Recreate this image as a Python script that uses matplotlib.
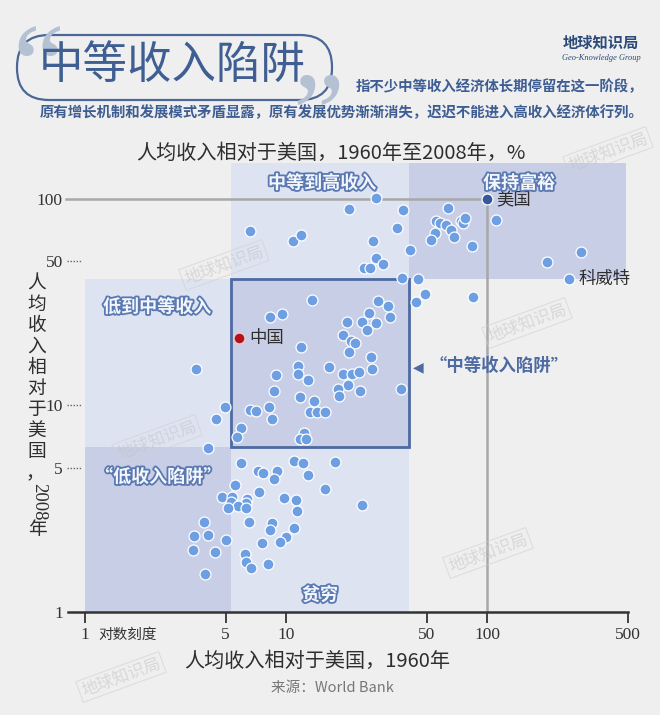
import matplotlib
matplotlib.use("Agg")
import matplotlib.pyplot as plt
import matplotlib.patheffects as pe
from matplotlib.patches import Rectangle, FancyBboxPatch
import numpy as np

plt.rcParams['font.family'] = ['Noto Sans CJK SC', 'DejaVu Sans']

# ---------------- data (relative income vs USA, %) ----------------
countries_1960 = [
    6.6, 10.8, 11.9, 27.9, 20.6, 38.0, 63.6, 35.5, 27.2, 41.2, 27.9, 30.4, 24.5, 26.1, 37.6,
    45.2, 49.3, 44.2, 84.7, 55.9, 58.4, 62.2, 73.8, 76.0, 77.8, 65.8, 55.1, 52.4, 68.1, 84.5,
    110.5, 199.5, 292.6,
    13.5, 8.28, 9.53, 11.9, 3.57, 11.5, 11.5, 8.95, 12.8, 16.3, 8.74, 11.7, 13.8, 8.26, 6.62,
    7.07, 8.49, 13.2, 14.2, 15.7, 4.95, 4.48, 5.95, 5.68, 12.3, 11.7, 12.6, 4.09,
    32.9, 26.0, 27.9, 23.9, 20.0, 25.2, 19.1, 21.0, 22.0, 20.6, 26.5, 26.9, 19.3, 21.2, 23.2,
    20.3, 18.2, 18.4, 23.4, 37.2, 32.3, 28.6,
    5.97, 7.23, 7.71, 8.99, 11.0, 12.2, 12.8, 8.71, 15.6, 17.5, 5.58, 7.34, 4.79, 5.37, 5.31,
    6.37, 6.32, 5.79, 6.32, 5.16, 9.81, 11.2, 11.3, 6.55, 8.49, 8.33, 10.9, 9.97, 9.33, 7.57,
    3.90, 3.49, 4.08, 5.01, 3.43, 4.43, 6.23, 6.32, 6.70, 8.17, 3.94, 24.0,
]
countries_2008 = [
    70.0, 62.4, 66.8, 100.8, 89.1, 88.1, 90.8, 72.1, 62.8, 56.6, 52.0, 48.3, 46.1, 46.2, 41.5,
    41.0, 34.7, 31.7, 33.6, 77.8, 76.8, 75.1, 78.2, 76.3, 80.9, 70.8, 68.2, 63.1, 65.7, 59.2,
    79.3, 49.4, 55.6,
    32.4, 26.8, 27.7, 19.3, 15.1, 15.6, 14.2, 14.0, 13.3, 15.4, 11.8, 10.96, 10.5, 9.87, 9.51,
    9.40, 8.60, 9.30, 9.33, 9.27, 9.84, 8.63, 7.81, 7.06, 7.39, 6.88, 6.91, 6.25,
    26.9, 28.1, 25.2, 25.4, 25.4, 23.2, 21.9, 20.5, 20.1, 18.2, 17.1, 15.1, 14.2, 14.2, 14.6,
    12.6, 12.0, 11.1, 11.8, 12.0, 30.2, 32.2,
    5.28, 4.83, 4.73, 4.83, 5.39, 5.25, 4.62, 4.41, 3.96, 5.31, 4.12, 3.83, 3.62, 3.59, 3.40,
    3.51, 3.36, 3.27, 3.18, 3.18, 3.55, 3.49, 3.08, 2.74, 2.71, 2.49, 2.54, 2.30, 2.19, 2.17,
    2.74, 2.34, 2.36, 2.23, 2.00, 1.95, 1.91, 1.75, 1.64, 1.70, 1.52, 3.30,
]
usa = (100, 100)
china = (5.86, 21.3)
kuwait = (255.9, 40.8)

x_ticks = [1, 5, 10, 50, 100, 500]
y_ticks = [1, 5, 10, 50, 100]

# region boundaries (%)
x_low, x_high, x_max = 5.3, 41, 490
y_low, y_high, y_max = 6.3, 41, 150

BG = '#efeff0'
LIGHT = '#dee3f2'
DARK = '#c8cee6'
BLUE_PT = '#6d9fe2'
NAVY = '#3f5f93'

fig = plt.figure(figsize=(6.6, 7.15), dpi=100, facecolor=BG)
W, H = 660, 715
L, R, T, B = 65.5, 631, 162.6, 612
ax = fig.add_axes([L / W, (H - B) / H, (R - L) / W, (B - T) / H])
ax.set_facecolor('none')
ax.set_xscale('log')
ax.set_yscale('log')
ax.set_xlim(0.8, 520)
ax.set_ylim(1, y_max)

# regions
regions = [
    (1, 1, x_low, y_low, DARK),             # 低收入陷阱
    (1, y_low, x_low, y_high, LIGHT),       # 低到中等收入
    (x_low, 1, x_high, y_low, LIGHT),       # 贫穷
    (x_low, y_high, x_high, y_max, LIGHT),  # 中等到高收入
    (x_low, y_low, x_high, y_high, DARK),   # 中等收入陷阱
    (x_high, y_high, x_max, y_max, DARK),   # 保持富裕
]
for x0, y0, x1, y1, c in regions:
    ax.add_patch(Rectangle((x0, y0), x1 - x0, y1 - y0, facecolor=c, edgecolor='none', zorder=0.5))
ax.add_patch(Rectangle((x_low, y_low), x_high - x_low, y_high - y_low, facecolor='none',
                       edgecolor='#4d6aa3', lw=2, zorder=2))

# reference lines
ax.plot([0.805, usa[0]], [usa[1], usa[1]], color='#a8a8a8', lw=1.8, zorder=1, clip_on=False)
ax.plot([usa[0], usa[0]], [1, usa[1]], color='#a8a8a8', lw=1.8, zorder=1)

# points
ax.scatter(countries_1960, countries_2008, s=62, color=BLUE_PT, edgecolor='white', lw=0.9, zorder=3)
ax.scatter([kuwait[0]], [kuwait[1]], s=62, color=BLUE_PT, edgecolor='white', lw=0.9, zorder=3)
ax.scatter([china[0]], [china[1]], s=62, color='#b3121a', edgecolor='#f4c6c6', lw=1.0, zorder=4)
ax.scatter([usa[0]], [usa[1]], s=62, color='#35599a', edgecolor='white', lw=0.9, zorder=4)

lab_kw = dict(fontsize=12.5, color='#2e2e2e', va='center', ha='left', textcoords='offset points')
ax.annotate('美国', usa, xytext=(7, -1), **lab_kw)
ax.annotate('中国', china, xytext=(7, 0), **lab_kw)
ax.annotate('科威特', kuwait, xytext=(7, 0), **lab_kw)

# axes styling
for s in ['top', 'right', 'left']:
    ax.spines[s].set_visible(False)
ax.spines['bottom'].set_bounds(0.82, 500)
ax.spines['bottom'].set_linewidth(1.8)
ax.spines['bottom'].set_color('#333333')
ax.set_xticks(x_ticks)
ax.set_xticklabels([str(v) for v in x_ticks], fontfamily='Liberation Serif', fontsize=12.5, color='#333')
ax.set_yticks(y_ticks)
ax.set_yticklabels([str(v) for v in y_ticks], fontfamily='Liberation Serif', fontsize=12.5, color='#333')
ax.xaxis.set_minor_locator(matplotlib.ticker.NullLocator())
ax.yaxis.set_minor_locator(matplotlib.ticker.NullLocator())
ax.tick_params(axis='x', direction='out', length=8, width=1.3, color='#333', pad=3)
ax.tick_params(axis='y', length=0, pad=2)
for v in [5, 10, 50]:
    ax.plot([0.002, 0.03], [v, v], transform=ax.get_yaxis_transform(), ls=(0, (1, 1.2)),
            color='#666', lw=1, clip_on=False)

# region labels
outline = [pe.withStroke(linewidth=2.6, foreground='#5a79b2')]
rl_kw = dict(fontsize=13, color='#f3f6fc', ha='center', va='center', fontweight='bold',
             path_effects=outline, zorder=5)

# overlay in pixel coordinates
ov = fig.add_axes([0, 0, 1, 1], facecolor='none')
ov.set_xlim(0, W)
ov.set_ylim(H, 0)
ov.axis('off')

ov.text(322, 183, '中等到高收入', **rl_kw)
ov.text(519, 183, '保持富裕', **rl_kw)
ov.text(157, 307, '低到中等收入', **rl_kw)
ov.text(158, 477, '“低收入陷阱”', **rl_kw)
ov.text(320, 595, '贫穷', **rl_kw)
ov.text(418, 367, '◀', fontsize=10, color='#4d6aa3', ha='center', va='center', family='DejaVu Sans')
ov.text(499, 366, '“中等收入陷阱”', fontsize=12.5, color='#4d6aa3', ha='center', va='center',
        fontweight='bold')

# watermarks
for (wx, wy) in [(224, 265), (157, 440), (527, 323), (488, 553), (121, 677), (608, 152)]:
    ov.text(wx, wy, '地球知识局', fontsize=12, color='#c4c4c4', alpha=0.55, rotation=20,
            ha='center', va='center',
            bbox=dict(boxstyle='square,pad=0.15', fc='none', ec='#cfcfcf', alpha=0.55, lw=0.8))

# header
ov.add_patch(FancyBboxPatch((17, 35), 315, 65, boxstyle='round,pad=0,rounding_size=32',
                            fc='none', ec='#4a6795', lw=1.6))
ov.text(38, 76, '“', fontsize=84, color='#b4c1d3', ha='center', va='center', family='Liberation Serif')
ov.text(318, 124, '”', fontsize=84, color='#b4c1d3', ha='center', va='center', family='Liberation Serif')
ov.text(172, 65, '中等收入陷阱', fontsize=32, color=NAVY, ha='center', va='center')
ov.text(643, 87, '指不少中等收入经济体长期停留在这一阶段，', fontsize=10.4, color='#3e5d92',
        ha='right', va='center', fontweight='bold')
ov.text(643, 113, '原有增长机制和发展模式矛盾显露，原有发展优势渐渐消失，迟迟不能进入高收入经济体行列。',
        fontsize=10.4, color='#3e5d92', ha='right', va='center', fontweight='bold')
ov.text(601, 43, '地球知识局', fontsize=11, color='#2c4a7a', ha='center', va='center', fontweight='bold')
ov.text(601, 58, 'Geo-Knowledge Group', fontsize=6, color='#2c4a7a', ha='center', va='center',
        family='Liberation Serif', style='italic')

ov.text(331, 153, '人均收入相对于美国，1960年至2008年，%', fontsize=14.5, color='#2e2e2e',
        ha='center', va='center')
ov.text(317, 661, '人均收入相对于美国，1960年', fontsize=14.5, color='#2e2e2e', ha='center', va='center')
ov.text(332, 688, '来源：World Bank', fontsize=10.5, color='#777777', ha='center', va='center')
ov.text(98, 635, '对数刻度', fontsize=10.5, color='#333333', ha='left', va='center')

# vertical y label
ychars = ['人', '均', '收', '入', '相', '对', '于', '美', '国']
for i, ch in enumerate(ychars):
    ov.text(37, 283 + i * 21, ch, fontsize=13.5, color='#2e2e2e', ha='center', va='center')
ov.text(35, 474, '，', fontsize=13.5, color='#2e2e2e', ha='center', va='center')
ov.text(39, 502, '2008', fontsize=13.5, color='#2e2e2e', ha='center', va='center', rotation=-90,
        family='Liberation Serif')
ov.text(37, 530, '年', fontsize=13.5, color='#2e2e2e', ha='center', va='center')

fig.savefig('out.png', dpi=100, facecolor=BG)
